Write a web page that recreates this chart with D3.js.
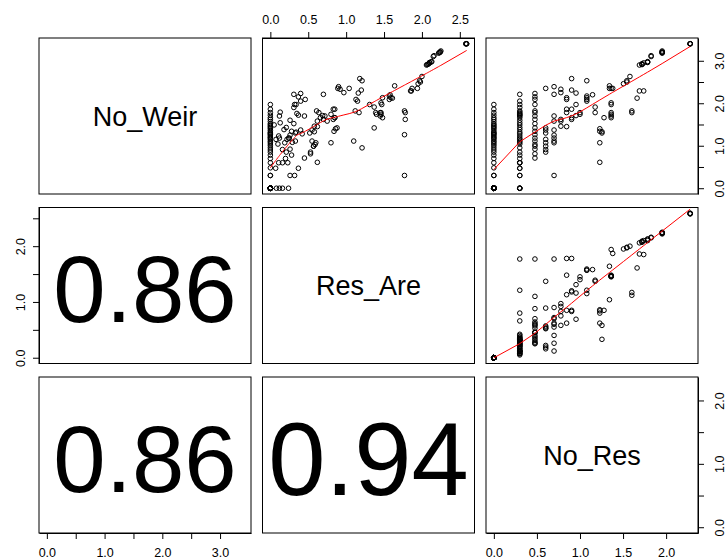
<!DOCTYPE html>
<html>
<head>
<meta charset="utf-8">
<script src="https://cdn.jsdelivr.net/npm/d3@7"></script>
<style>
  body { margin: 0; background: #fff; }
  text { font-family: "Liberation Sans", Arial, sans-serif; fill: #000; }
</style>
</head>
<body>
<svg id="chart"></svg>
<script>
const varNames = ['No_Weir', 'Res_Are', 'No_Res'];

// one entry per site, grouped by No_Res value (log10 scale)
const noWeir = [
  // sites with nothing at all (stacked at the origin)
  0, 0, 0, 0, 0, 0, 0, 0, 0, 0, 0, 0, 0, 0, 0,
  0, 0, 0, 0, 0, 0, 0, 0, 0, 0, 0, 0, 0, 0, 0,
  0, 0, 0, 0, 0, 0, 0, 0, 0, 0, 0, 0, 0, 0, 0,
  0, 0, 0.30, 0.30, 0.48, 0.60, 0.70, 0.78, 0.85, 0.90, 0.95, 1.00, 1.04, 1.08, 1.11, 1.15, 1.18, 1.20,
  1.23, 1.26, 1.28, 1.30, 1.32, 1.36, 1.40, 1.43, 1.46, 1.49, 1.52, 1.57, 1.62, 1.66, 1.72, 1.78, 1.86, 1.97,
  0, 0, 0, 0, 0.30, 0.30, 0.47, 0.47, 0.60, 0.60, 0.60, 0.70, 0.78, 0.85, 0.95, 1.04, 1.15, 1.23, 1.38, 1.54,
  1.70, 1.79, 1.82, 1.90, 1.97, 2.21, 1.66, 1.74,
  1.08, 1.11, 1.18, 1.28, 1.32, 1.43, 1.49, 1.60, 1.76, 1.72, 2.05,
  2.23, 2.15, 2.09, 1.97, 1.82, 1.78, 1.70, 1.62, 1.52, 1.42, 1.34, 1.26, 1.18, 1.11, 1.03, 0.92, 0.81, 0.71, 0.99,
  2.35, 1.42, 1.37, 1.30, 1.15, 1.07, 0.99, 0.91, 0.85,
  0.30, 2.39, 2.21, 1.70, 1.58, 1.37, 1.25, 1.18, 1.11, 1.07,
  2.33, 2.25, 1.58, 1.46, 1.62,
  1.78, 2.13, 2.09, 1.86, 1.45,
  1.62, 2.58, 2.31, 1.86, 1.66,
  2.24, 1.97, 1.71,
  1.78, 1.74,
  2.53, 2.17, 2.13, 2.09, 2.05,
  2.20,
  1.91, 1.78,
  1.40, 1.34, 1.07, 0.61,
  1.33, 1.30,
  1.66,
  2.41, 2.35,
  2.35, 2.01, 1.97, 1.78, 1.74, 1.70, 1.66,
  2.35,
  2.46,
  2.53, 2.50,
  2.63,
  1.82, 1.78,
  2.12,
  2.90, 2.29,
  2.92, 2.91, 2.93,
  2.95, 2.29,
  2.98, 2.96, 2.97,
  3.12, 3.10,
  3.20, 3.18, 3.23, 3.21, 3.19,
  3.40, 3.40, 3.40, 3.40
];

const resAre = [
  0, 0, 0, 0, 0, 0, 0, 0, 0, 0, 0, 0, 0, 0, 0,
  0, 0, 0, 0, 0, 0, 0, 0, 0, 0, 0, 0, 0, 0, 0,
  0, 0, 0, 0, 0, 0, 0, 0, 0, 0, 0, 0, 0, 0, 0,
  0, 0, 0, 0, 0, 0, 0, 0, 0, 0, 0, 0, 0, 0, 0, 0, 0, 0,
  0, 0, 0, 0, 0, 0, 0, 0, 0, 0, 0, 0, 0, 0, 0, 0, 0, 0,
  0.08, 0.12, 0.16, 0.24, 0.26, 0.32, 0.07, 0.37, 0.11, 0.16, 0.23, 0.20, 0.28, 0.21, 1.21, 0.10, 0.075, 0.11, 0.18, 0.13,
  0.12, 0.13, 1.77, 0.31, 0.32, 0.31, 0.66, 0.80,
  0.29, 0.33, 0.24, 0.42, 0.34, 0.21, 0.05, 0.26, 0.35, 0.37, 0.40,
  0.40, 0.37, 0.46, 0.34, 0.61, 0.64, 0.45, 0.70, 0.31, 0.88, 0.28, 1.77, 0.25, 1.10, 0.59, 0.26, 0.53, 0.45, 0.57,
  0.89, 1.37, 0.55, 0.52, 0.22, 0.19, 0.57, 0.16, 0.53,
  1.77, 0.90, 0.70, 0.72, 0.62, 0.40, 0.26, 0.12, 0.55, 0.60,
  0.92, 0.97, 0.75, 0.58, 0.83,
  1.78, 1.48, 1.13, 0.85, 0.62,
  1.78, 1.18, 1.20, 0.83, 0.85,
  1.16, 1.31, 0.69,
  1.45, 1.40,
  1.21, 1.57, 1.59, 1.57, 1.15,
  1.58,
  1.37, 1.39,
  0.86, 0.84, 0.80, 0.62,
  0.58, 0.33,
  0.85,
  1.64, 1.04,
  1.94, 1.46, 1.47, 1.46, 1.46, 1.45, 1.48,
  1.87,
  1.95,
  1.97, 1.98,
  2.00,
  1.12, 1.17,
  1.61,
  2.06, 1.86,
  2.08, 2.07, 2.09,
  2.10, 1.85,
  2.13, 2.10, 2.12,
  2.16, 2.15,
  2.24, 2.22, 2.25, 2.24, 2.23,
  2.58, 2.59, 2.59, 2.58
];

const noRes = [
  0, 0, 0, 0, 0, 0, 0, 0, 0, 0, 0, 0, 0, 0, 0,
  0, 0, 0, 0, 0, 0, 0, 0, 0, 0, 0, 0, 0, 0, 0,
  0, 0, 0, 0, 0, 0, 0, 0, 0, 0, 0, 0, 0, 0, 0,
  0, 0, 0, 0, 0, 0, 0, 0, 0, 0, 0, 0, 0, 0, 0, 0, 0, 0,
  0, 0, 0, 0, 0, 0, 0, 0, 0, 0, 0, 0, 0, 0, 0, 0, 0, 0,
  0.301, 0.301, 0.301, 0.301, 0.301, 0.301, 0.301, 0.301, 0.301, 0.301, 0.301, 0.301, 0.301, 0.301, 0.301, 0.301, 0.301, 0.301, 0.301, 0.301,
  0.301, 0.301, 0.301, 0.301, 0.301, 0.301, 0.301, 0.301,
  0.301, 0.301, 0.301, 0.301, 0.301, 0.301, 0.301, 0.301, 0.301, 0.301, 0.301,
  0.477, 0.477, 0.477, 0.477, 0.477, 0.477, 0.477, 0.477, 0.477, 0.477, 0.477, 0.477, 0.477, 0.477, 0.477, 0.477, 0.477, 0.477, 0.477,
  0.602, 0.602, 0.602, 0.602, 0.602, 0.602, 0.602, 0.602, 0.602,
  0.699, 0.699, 0.699, 0.699, 0.699, 0.699, 0.699, 0.699, 0.699, 0.699,
  0.778, 0.778, 0.778, 0.778, 0.778,
  0.845, 0.845, 0.845, 0.845, 0.845,
  0.903, 0.903, 0.903, 0.903, 0.903,
  0.954, 0.954, 0.954,
  1.000, 1.000,
  1.079, 1.079, 1.079, 1.079, 1.079,
  1.146,
  1.176, 1.176,
  1.230, 1.230, 1.230, 1.230,
  1.255, 1.255,
  1.279,
  1.342, 1.342,
  1.362, 1.362, 1.362, 1.362, 1.362, 1.362, 1.362,
  1.380,
  1.505,
  1.544, 1.544,
  1.580,
  1.602, 1.602,
  1.663,
  1.690, 1.690,
  1.720, 1.720, 1.720,
  1.740, 1.740,
  1.785, 1.785, 1.785,
  1.826, 1.826,
  1.954, 1.954, 1.954, 1.954, 1.954,
  2.279, 2.279, 2.279, 2.279
];

// correlations printed in the lower panels
const corRows = [1, 2, 2];
const corCols = [0, 0, 1];
const corValues = [0.86, 0.86, 0.94];

const noWeirTicks = [0, 0.5, 1, 1.5, 2, 2.5, 3];
const resAreTicks = [0, 0.5, 1, 1.5, 2, 2.5];
const noResTicks = [0, 0.5, 1, 1.5, 2];
const wholeLabels = [0, 1, 2, 3];

const W = 726, H = 559;
const panelLeft = [39, 262.5, 486];
const panelTop = [38, 207.5, 377];
const panelW = 212, panelH = 156;

const values = [noWeir, resAre, noRes];
const ticks = [noWeirTicks, resAreTicks, noResTicks];

function padded(v) {
  const [lo, hi] = d3.extent(v);
  const r = hi - lo;
  return [lo - 0.04 * r, hi + 0.04 * r];
}

// R's lowess (clowess), f = 2/3, iter = 3
function lowess(xIn, yIn, f = 2 / 3, iter = 3) {
  const order = d3.range(xIn.length).sort((a, b) => xIn[a] - xIn[b]);
  const x = order.map(i => xIn[i]);
  const y = order.map(i => yIn[i]);
  const n = x.length;
  const ns = Math.max(2, Math.min(n, Math.floor(f * n + 1e-7)));
  const span = x[n - 1] - x[0];
  const ys = new Array(n).fill(0);
  const rw = new Array(n).fill(1);
  for (let it = 0; it <= iter; it++) {
    let nleft = 0, nright = ns - 1;
    for (let i = 0; i < n; i++) {
      while (nright < n - 1 && x[i] - x[nleft] > x[nright + 1] - x[i]) { nleft++; nright++; }
      const h = Math.max(x[i] - x[nleft], x[nright] - x[i]);
      const h9 = 0.999 * h, h1 = 0.001 * h;
      const w = new Array(n).fill(0);
      let a = 0;
      for (let j = 0; j < n; j++) {
        const r = Math.abs(x[j] - x[i]);
        if (r <= h9) {
          w[j] = (r <= h1 ? 1 : Math.pow(1 - Math.pow(r / h, 3), 3)) * rw[j];
          a += w[j];
        }
      }
      if (a <= 0) { ys[i] = y[i]; continue; }
      for (let j = 0; j < n; j++) w[j] /= a;
      if (h > 0) {
        let xm = 0;
        for (let j = 0; j < n; j++) xm += w[j] * x[j];
        let b = x[i] - xm, c = 0;
        for (let j = 0; j < n; j++) c += w[j] * (x[j] - xm) * (x[j] - xm);
        if (Math.sqrt(c) > 0.001 * span) {
          b /= c;
          for (let j = 0; j < n; j++) w[j] *= b * (x[j] - xm) + 1;
        }
      }
      let s = 0;
      for (let j = 0; j < n; j++) s += w[j] * y[j];
      ys[i] = s;
    }
    if (it === iter) break;
    const res = y.map((v, i) => Math.abs(v - ys[i]));
    const cmad = 6 * d3.median(res);
    if (cmad < 1e-7 * d3.mean(y, Math.abs)) break;
    for (let i = 0; i < n; i++) {
      const r = res[i];
      rw[i] = r <= 0.001 * cmad ? 1 : r <= 0.999 * cmad ? Math.pow(1 - (r / cmad) * (r / cmad), 2) : 0;
    }
  }
  return x.map((v, i) => [v, ys[i]]);
}

const svg = d3.select('#chart').attr('width', W).attr('height', H);

const xScales = values.map((v, k) => d3.scaleLinear().domain(padded(v)).range([panelLeft[k], panelLeft[k] + panelW]));
const yScales = values.map((v, k) => d3.scaleLinear().domain(padded(v)).range([panelTop[k] + panelH, panelTop[k]]));

const fmt = d3.format('.1f');
const labelSize = 12.5;

for (let i = 0; i < 3; i++) {
  for (let j = 0; j < 3; j++) {
    const g = svg.append('g');
    const cx = panelLeft[j] + panelW / 2;
    const cy = panelTop[i] + panelH / 2;

    if (i === j) {
      g.append('text')
        .attr('x', cx)
        .attr('y', cy + 0.36 * 27)
        .attr('text-anchor', 'middle')
        .style('font-size', '27px')
        .text(varNames[i]);
    } else if (i < j) {
      const xs = values[j], ysv = values[i];
      g.selectAll('circle')
        .data(d3.range(xs.length))
        .enter()
        .append('circle')
        .attr('cx', k => xScales[j](xs[k]))
        .attr('cy', k => yScales[i](ysv[k]))
        .attr('r', 2.3)
        .attr('fill', 'none')
        .attr('stroke', '#000')
        .attr('stroke-width', 1);

      g.append('path')
        .datum(lowess(xs, ysv))
        .attr('fill', 'none')
        .attr('stroke', 'red')
        .attr('stroke-width', 1)
        .attr('d', d3.line().x(d => xScales[j](d[0])).y(d => yScales[i](d[1])));
    }

    g.append('rect')
      .attr('x', panelLeft[j])
      .attr('y', panelTop[i])
      .attr('width', panelW)
      .attr('height', panelH)
      .attr('fill', 'none')
      .attr('stroke', '#000')
      .attr('stroke-width', 1);
  }
}

// correlation numbers, sized by r
corValues.forEach((r, k) => {
  const i = corRows[k], j = corCols[k];
  const fs = 109.5 * r;
  svg.append('text')
    .attr('x', panelLeft[j] + panelW / 2)
    .attr('y', panelTop[i] + panelH / 2 + 0.358 * fs + 3)
    .attr('text-anchor', 'middle')
    .style('font-size', fs + 'px')
    .text(r.toFixed(2));
});

function styleAxis(g) {
  g.selectAll('path, line').attr('stroke', '#000');
  g.selectAll('text').style('font-size', labelSize + 'px').attr('fill', '#000')
    .style('font-family', '"Liberation Sans", Arial, sans-serif');
}

function labelWith(keep) {
  return d => (keep === null || keep.includes(d) ? fmt(d) : '');
}

// top axis on column 2 (Res_Are)
svg.append('g')
  .attr('transform', `translate(0,${panelTop[0]})`)
  .call(d3.axisTop(xScales[1]).tickValues(resAreTicks).tickSize(6).tickSizeOuter(0).tickPadding(8).tickFormat(labelWith(null)))
  .call(styleAxis);

// bottom axes on columns 1 and 3
svg.append('g')
  .attr('transform', `translate(0,${panelTop[2] + panelH})`)
  .call(d3.axisBottom(xScales[0]).tickValues(noWeirTicks).tickSize(6).tickSizeOuter(0).tickPadding(9.6).tickFormat(labelWith(wholeLabels)))
  .call(styleAxis);

svg.append('g')
  .attr('transform', `translate(0,${panelTop[2] + panelH})`)
  .call(d3.axisBottom(xScales[2]).tickValues(noResTicks).tickSize(6).tickSizeOuter(0).tickPadding(9.6).tickFormat(labelWith(null)))
  .call(styleAxis);

// left axis on row 2 (Res_Are), labels rotated
svg.append('g')
  .attr('transform', `translate(${panelLeft[0]},0)`)
  .call(d3.axisLeft(yScales[1]).tickValues(resAreTicks).tickSize(6).tickSizeOuter(0).tickFormat(labelWith(wholeLabels)))
  .call(styleAxis)
  .call(g => g.selectAll('text')
    .attr('x', null).attr('dy', null)
    .attr('text-anchor', 'middle')
    .attr('transform', 'translate(-14,0) rotate(-90)'));

// right axes on rows 1 and 3
[0, 2].forEach(i => {
  svg.append('g')
    .attr('transform', `translate(${panelLeft[2] + panelW},0)`)
    .call(d3.axisRight(yScales[i]).tickValues(ticks[i]).tickSize(6).tickSizeOuter(0).tickFormat(labelWith(wholeLabels)))
    .call(styleAxis)
    .call(g => g.selectAll('text')
      .attr('x', null).attr('dy', null)
      .attr('text-anchor', 'middle')
      .attr('transform', 'translate(25.5,0) rotate(-90)'));
});
</script>
</body>
</html>
